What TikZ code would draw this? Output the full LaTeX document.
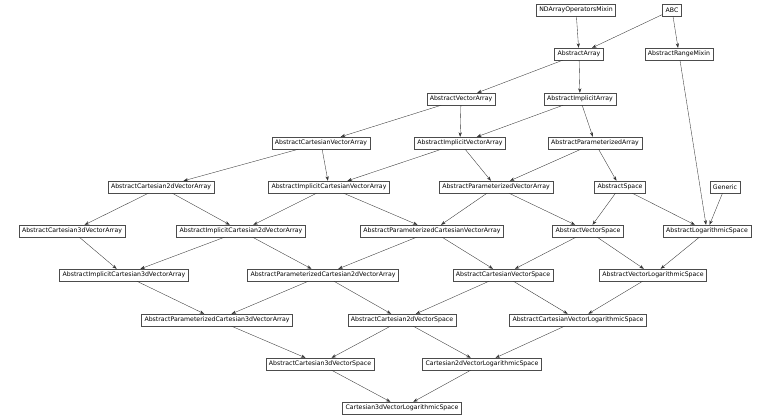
\documentclass[tikz,border=0pt]{standalone}
\usepackage{fontspec}
\setmainfont{DejaVu Sans}
\usetikzlibrary{arrows.meta}
\tikzset{cls/.style={draw=black!70,line width=0.4pt,fill=white,font=\fontsize{6.2}{7}\selectfont,inner xsep=3pt,minimum height=12pt,inner ysep=0pt}}
\tikzset{inh/.style={draw=black!80,line width=0.35pt,-{Stealth[length=4.5pt,width=3.2pt]}}}
\begin{document}
\begin{tikzpicture}[x=1pt,y=-1pt]
\useasboundingbox (0,0) rectangle (768,420);

% Define bases
\node[cls] at (576,10) (ndop) {NDArrayOperatorsMixin};
\node[cls] at (672,10) (abc) {ABC};

% Define arrays
\node[cls] at (579,54) (arr) {AbstractArray};
\node[cls] at (679,54) (range) {AbstractRangeMixin};
\node[cls] at (461,99) (varr) {AbstractVectorArray};
\node[cls] at (580,99) (iarr) {AbstractImplicitArray};
\node[cls] at (321,143) (cvarr) {AbstractCartesianVectorArray};
\node[cls] at (460,143) (ivarr) {AbstractImplicitVectorArray};
\node[cls] at (595,143) (parr) {AbstractParameterizedArray};
\node[cls] at (161,187) (c2arr) {AbstractCartesian2dVectorArray};
\node[cls] at (329,187) (icvarr) {AbstractImplicitCartesianVectorArray};
\node[cls] at (496,187) (pvarr) {AbstractParameterizedVectorArray};
\node[cls] at (620,187) (space) {AbstractSpace};
\node[cls] at (725,187) (gen) {Generic};
\node[cls] at (72,231) (c3arr) {AbstractCartesian3dVectorArray};
\node[cls] at (241,231) (ic2arr) {AbstractImplicitCartesian2dVectorArray};
\node[cls] at (432,231) (pcvarr) {AbstractParameterizedCartesianVectorArray};
\node[cls] at (588,231) (vspace) {AbstractVectorSpace};
\node[cls] at (707,231) (lspace) {AbstractLogarithmicSpace};
\node[cls] at (124,275) (ic3arr) {AbstractImplicitCartesian3dVectorArray};
\node[cls] at (323,275) (pc2arr) {AbstractParameterizedCartesian2dVectorArray};
\node[cls] at (503,275) (cvspace) {AbstractCartesianVectorSpace};
\node[cls] at (653,275) (vlspace) {AbstractVectorLogarithmicSpace};
\node[cls] at (217,320) (pc3arr) {AbstractParameterizedCartesian3dVectorArray};
\node[cls] at (402,320) (c2space) {AbstractCartesian2dVectorSpace};
\node[cls] at (578,320) (cvlspace) {AbstractCartesianVectorLogarithmicSpace};
\node[cls] at (320,364) (c3space) {AbstractCartesian3dVectorSpace};
\node[cls] at (482,364) (c2lspace) {Cartesian2dVectorLogarithmicSpace};
\node[cls] at (402,408) (c3lspace) {Cartesian3dVectorLogarithmicSpace};

% Define inheritance
\foreach \a/\b in {ndop/arr, abc/arr, abc/range, arr/varr, arr/iarr, range/lspace,
  varr/cvarr, varr/ivarr, iarr/ivarr, iarr/parr,
  cvarr/c2arr, cvarr/icvarr, ivarr/icvarr, ivarr/pvarr, parr/pvarr, parr/space,
  c2arr/c3arr, c2arr/ic2arr, icvarr/ic2arr, icvarr/pcvarr, pvarr/pcvarr, pvarr/vspace,
  space/vspace, space/lspace, gen/lspace,
  c3arr/ic3arr, ic2arr/ic3arr, ic2arr/pc2arr, pcvarr/pc2arr, pcvarr/cvspace,
  vspace/cvspace, vspace/vlspace, lspace/vlspace,
  ic3arr/pc3arr, pc2arr/pc3arr, pc2arr/c2space, cvspace/c2space, cvspace/cvlspace, vlspace/cvlspace,
  pc3arr/c3space, c2space/c3space, c2space/c2lspace, cvlspace/c2lspace,
  c3space/c3lspace, c2lspace/c3lspace}
  \path[inh] (\a) -- (\b);
\end{tikzpicture}
\end{document}
